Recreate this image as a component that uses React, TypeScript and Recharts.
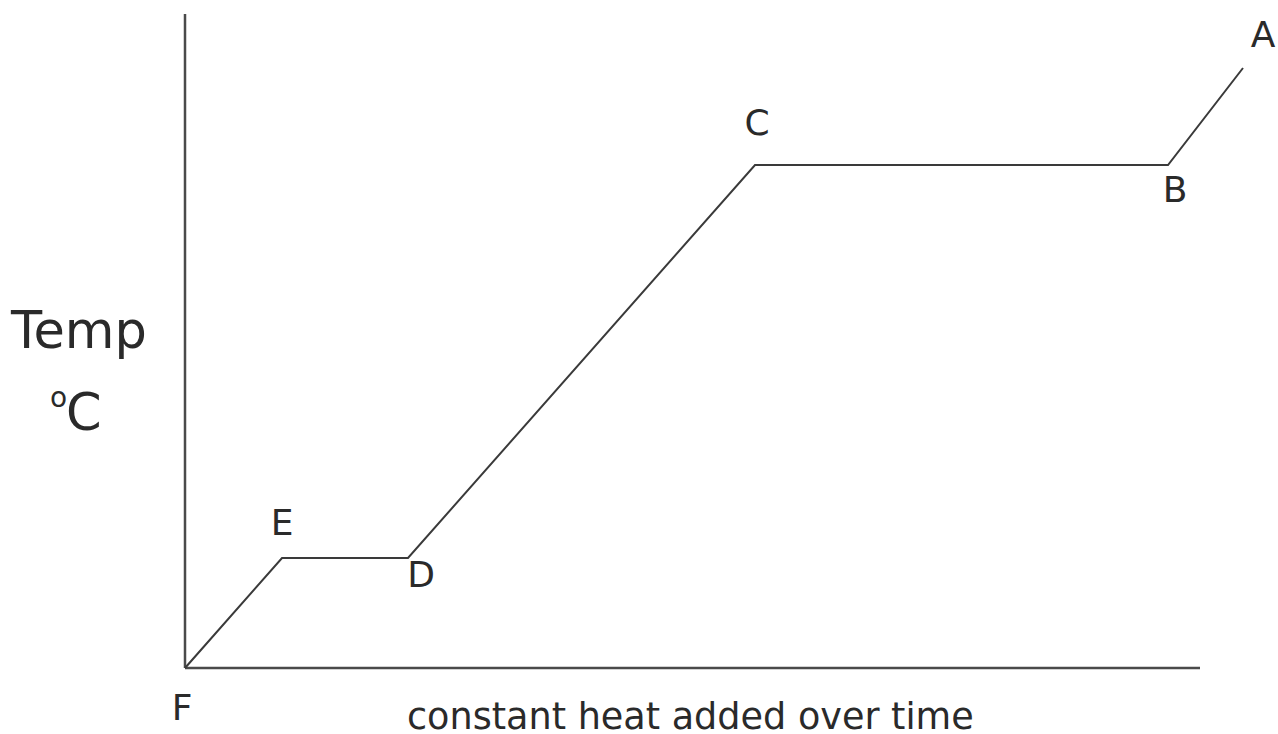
import React from "react";
import {
  LineChart,
  Line,
  XAxis,
  YAxis,
  ReferenceLine,
  LabelList,
} from "recharts";

// Phase points of the heating curve (x = heat added, y = temperature)
const pointNames = ["F", "E", "D", "C", "B", "A"];
const heatValues = [0, 9.7, 22.3, 57.0, 98.3, 105.8];
const tempValues = [0, 11.0, 11.0, 50.3, 50.3, 60.0];

const xDomain: [number, number] = [0, 106];
const yDomain: [number, number] = [0, 65.4];
const xAxisEnd = 101.5;

const xTitle = "constant heat added over time";
const yTitle = "Temp";
const yUnit = "C";

const data = pointNames.map((name, i) => ({
  name,
  x: heatValues[i],
  y: tempValues[i],
}));

// label placement relative to each point (dx, baseline dy)
const labelOffsets: Record<string, [number, number]> = {
  F: [-3, 52],
  E: [0, -23],
  D: [13, 29],
  C: [2, -30],
  B: [7, 37],
  A: [20, -21],
};

const FONT = "'DejaVu Sans', Verdana, sans-serif";
const INK = "#2a2a2a";
const AXIS = "#4a4a4a";

const PointLabel = (props: any) => {
  const { x, y, value } = props;
  const [dx, dy] = labelOffsets[value] ?? [0, -20];
  return (
    <text
      x={x + dx}
      y={y + dy}
      textAnchor="middle"
      fontSize={36}
      fontFamily={FONT}
      fill={INK}
    >
      {value}
    </text>
  );
};

export default function App() {
  return (
    <div style={{ position: "absolute", left: 0, top: 0, background: "#fff" }}>
      <LineChart
        width={1278}
        height={734}
        data={data}
        margin={{ top: 14, right: 33, bottom: 0, left: 0 }}
      >
        <XAxis
          type="number"
          dataKey="x"
          domain={xDomain}
          height={66}
          axisLine={false}
          tick={false}
          tickLine={false}
          label={{
            content: () => (
              <text
                x={407}
                y={729}
                fontSize={36.6}
                fontFamily={FONT}
                fill={INK}
              >
                {xTitle}
              </text>
            ),
          }}
        />
        <YAxis
          type="number"
          dataKey="y"
          domain={yDomain}
          width={185}
          axisLine={false}
          tick={false}
          tickLine={false}
          label={{
            content: () => (
              <g fontFamily={FONT} fill={INK}>
                <text x={11} y={348} fontSize={51}>
                  {yTitle}
                </text>
                <text x={50} y={407} fontSize={28}>
                  o
                </text>
                <text x={66} y={430} fontSize={51}>
                  {yUnit}
                </text>
              </g>
            ),
          }}
        />
        <ReferenceLine x={0} stroke={AXIS} strokeWidth={2.5} />
        <ReferenceLine
          segment={[
            { x: 0, y: 0 },
            { x: xAxisEnd, y: 0 },
          ]}
          stroke={AXIS}
          strokeWidth={2.5}
        />
        <Line
          type="linear"
          dataKey="y"
          stroke="#3a3a3a"
          strokeWidth={2}
          dot={false}
          isAnimationActive={false}
        >
          <LabelList dataKey="name" content={PointLabel} />
        </Line>
      </LineChart>
    </div>
  );
}
